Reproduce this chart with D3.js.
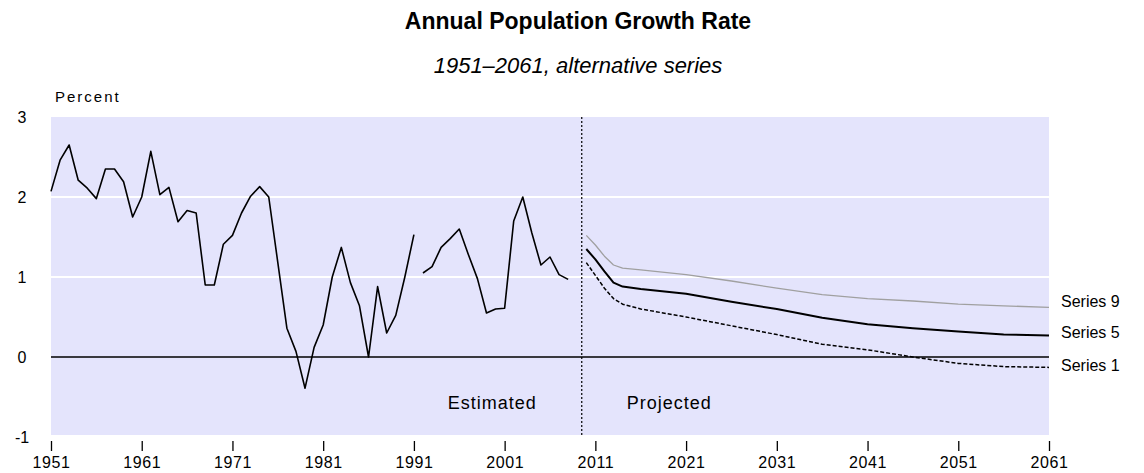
<!DOCTYPE html>
<html>
<head>
<meta charset="utf-8">
<script src="https://cdn.jsdelivr.net/npm/d3@7"></script>
<style>
  body { margin: 0; background: #fff; }
  text { font-family: "Liberation Sans", Arial, sans-serif; fill: #000; }
</style>
</head>
<body>
<svg id="chart"></svg>
<script>
// estimated annual growth (percent), two segments with a break after 1991
const estYears1 = d3.range(1951, 1992);
const estValues1 = [2.07, 2.46, 2.65, 2.21, 2.11, 1.98, 2.35, 2.35, 2.19, 1.75,
  2.00, 2.57, 2.03, 2.12, 1.69, 1.83, 1.80, 0.90, 0.90, 1.41,
  1.52, 1.80, 2.01, 2.13, 2.00, 1.18, 0.36, 0.07, -0.39, 0.12,
  0.40, 1.00, 1.37, 0.93, 0.64, 0.00, 0.88, 0.30, 0.52, 1.00, 1.53];
const estYears2 = d3.range(1992, 2009);
const estValues2 = [1.05, 1.13, 1.37, 1.48, 1.60, 1.28, 0.98, 0.55, 0.60, 0.61,
  1.70, 2.00, 1.55, 1.15, 1.25, 1.03, 0.97];

// projections
const projYears = [2010, 2011, 2012, 2013, 2014, 2016, 2021, 2026, 2031, 2036, 2041, 2046, 2051, 2056, 2061];
const series9 = [1.52, 1.40, 1.26, 1.15, 1.11, 1.09, 1.03, 0.95, 0.86, 0.78, 0.73, 0.70, 0.66, 0.64, 0.62];
const series5 = [1.35, 1.22, 1.07, 0.93, 0.88, 0.85, 0.79, 0.69, 0.60, 0.49, 0.41, 0.36, 0.32, 0.28, 0.27];
const series1 = [1.18, 1.02, 0.86, 0.73, 0.66, 0.60, 0.50, 0.39, 0.28, 0.16, 0.09, 0.00, -0.08, -0.12, -0.13];

const xTicks = [1951, 1961, 1971, 1981, 1991, 2001, 2011, 2021, 2031, 2041, 2051, 2061];
const yTicks = [3, 2, 1, 0, -1];
const splitYear = 2009.5;

const svgWidth = 1144, svgHeight = 473;

const svg = d3.select("#chart")
  .attr("width", svgWidth)
  .attr("height", svgHeight);

const x = d3.scaleLinear().domain([1951, 2061]).range([51, 1049]);
const y = d3.scaleLinear().domain([-1, 3]).range([437, 117]);

// plot background
svg.append("rect")
  .attr("x", x(1951))
  .attr("y", y(3))
  .attr("width", x(2061) - x(1951))
  .attr("height", y(-1) - y(3) - 2)
  .attr("fill", "#e4e4fc");

// white gridlines
svg.selectAll(".grid")
  .data([1, 2])
  .enter().append("line")
    .attr("x1", x(1951))
    .attr("x2", x(2061))
    .attr("y1", d => y(d))
    .attr("y2", d => y(d))
    .attr("stroke", "#fff")
    .attr("stroke-width", 2);

// zero line
svg.append("line")
  .attr("x1", x(1951))
  .attr("x2", x(2061))
  .attr("y1", y(0))
  .attr("y2", y(0))
  .attr("stroke", "#000")
  .attr("stroke-width", 1.5);

// estimated / projected divider
svg.append("line")
  .attr("x1", x(splitYear))
  .attr("x2", x(splitYear))
  .attr("y1", y(3))
  .attr("y2", y(-1) - 2)
  .attr("stroke", "#000")
  .attr("stroke-width", 1.2)
  .attr("stroke-dasharray", "2,2");

// x axis
const xAxis = svg.append("g")
  .attr("transform", "translate(0," + (y(-1) + 4) + ")")
  .call(d3.axisBottom(x).tickValues(xTicks).tickFormat(d3.format("d")).tickSize(10).tickPadding(6));
xAxis.select(".domain").remove();
xAxis.selectAll("line").attr("stroke", "#000").attr("stroke-width", 1.3);
xAxis.selectAll("text")
  .style("font-family", "'Liberation Sans', Arial, sans-serif")
  .style("font-size", "16px")
  .style("letter-spacing", "0.6px")
  .attr("fill", "#000");

// y labels (no tick marks)
svg.selectAll(".ylab")
  .data(yTicks)
  .enter().append("text")
    .attr("x", 22)
    .attr("y", d => y(d))
    .attr("dy", "0.35em")
    .attr("text-anchor", "middle")
    .style("font-size", "16px")
    .text(d => d);

svg.append("text")
  .attr("x", 55)
  .attr("y", 102)
  .style("font-size", "15px")
  .style("letter-spacing", "2px")
  .text("Percent");

// lines
const line = d3.line()
  .x(d => x(d[0]))
  .y(d => y(d[1]));

const drawSeries = (years, values, color, width, dash) => {
  svg.append("path")
    .datum(d3.zip(years, values))
    .attr("fill", "none")
    .attr("stroke", color)
    .attr("stroke-width", width)
    .attr("stroke-linejoin", "round")
    .attr("stroke-dasharray", dash)
    .attr("d", line);
};

drawSeries(estYears1, estValues1, "#000", 1.6, null);
drawSeries(estYears2, estValues2, "#000", 1.6, null);
drawSeries(projYears, series9, "#a0a0a0", 1.3, null);
drawSeries(projYears, series5, "#000", 2, null);
drawSeries(projYears, series1, "#000", 1.5, "4,2");

// series labels
const lastIdx = projYears.length - 1;
const seriesLabels = [
  { name: "Series 9", v: series9[lastIdx], off: -6 },
  { name: "Series 5", v: series5[lastIdx], off: -3 },
  { name: "Series 1", v: series1[lastIdx], off: -2 }
];
svg.selectAll(".slab")
  .data(seriesLabels)
  .enter().append("text")
    .attr("x", x(2061) + 12)
    .attr("y", d => y(d.v) + d.off)
    .attr("dy", "0.35em")
    .style("font-size", "16px")
    .text(d => d.name);

// annotations
svg.append("text")
  .attr("x", x(splitYear) - 45)
  .attr("y", 409)
  .attr("text-anchor", "end")
  .style("font-size", "18px")
  .style("letter-spacing", "1px")
  .text("Estimated");

svg.append("text")
  .attr("x", x(splitYear) + 45)
  .attr("y", 409)
  .style("font-size", "18px")
  .style("letter-spacing", "1px")
  .text("Projected");

// titles
svg.append("text")
  .attr("x", 578)
  .attr("y", 29)
  .attr("text-anchor", "middle")
  .style("font-size", "23px")
  .style("font-weight", "bold")
  .text("Annual Population Growth Rate");

svg.append("text")
  .attr("x", 578)
  .attr("y", 73)
  .attr("text-anchor", "middle")
  .style("font-size", "22px")
  .style("font-style", "italic")
  .text("1951\u20132061, alternative series");
</script>
</body>
</html>
